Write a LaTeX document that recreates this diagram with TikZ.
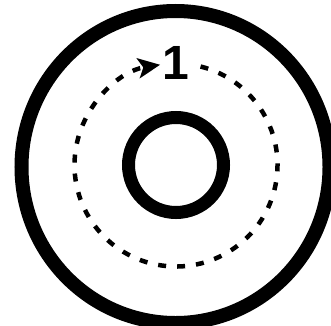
\documentclass[tikz,border=0pt]{standalone}
\usepackage{fontspec}
\setmainfont{Liberation Sans}
\usetikzlibrary{arrows.meta}
\begin{document}
\begin{tikzpicture}[x=1pt,y=1pt,
  ring/.style={draw=black},
  orbit/.style={draw=black,line width=4.5pt,dash pattern=on 8pt off 11pt,
    -{Stealth[length=22pt,width=20pt,inset=5pt]}},
  label/.style={font=\fontsize{48}{48}\selectfont\bfseries,inner sep=0pt}]
\useasboundingbox (0,0) rectangle (331,325);
\coordinate (c) at (176,160);
\coordinate (co) at (175.5,158);
\draw[ring,line width=14pt] (co) ellipse[x radius=154, y radius=156];
\draw[ring,line width=13pt] (c) circle[radius=47.5];
\node[label] (one) at (176,262) {1};
\draw[orbit] (c) ++(76:101.5) arc[start angle=76, end angle=-261, radius=101.5];
\end{tikzpicture}
\end{document}
